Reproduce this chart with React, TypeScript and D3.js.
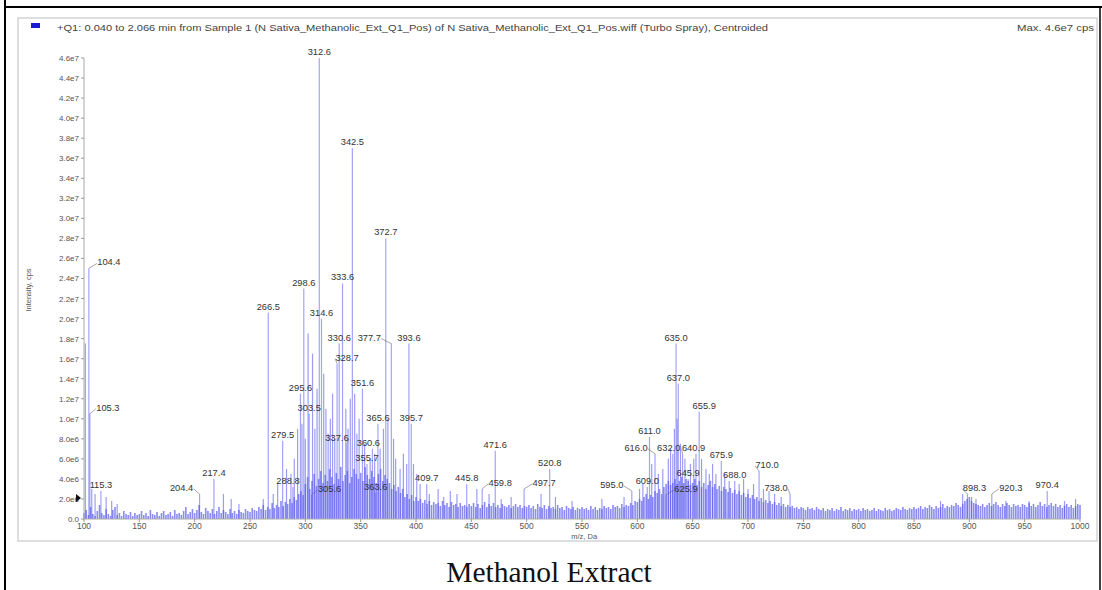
import React from "react";
import * as d3 from "d3";

// labelled peaks: m/z, intensity (cps)
const peakMz = [104.4, 105.3, 115.3, 204.4, 217.4, 266.5, 279.5, 288.8, 295.6, 298.6, 303.5, 312.6, 314.6, 337.6, 305.6, 330.6, 328.7, 333.6, 342.5, 351.6, 355.7, 360.6, 365.6, 363.6, 372.7, 377.7, 393.6, 395.7, 409.7, 445.8, 459.8, 471.6, 497.7, 520.8, 595.0, 609.0, 611.0, 616.0, 625.9, 632.0, 635.0, 637.0, 640.9, 645.9, 655.9, 675.9, 688.0, 710.0, 738.0, 898.3, 920.3, 970.4];
const peakInt = [2.5e7, 1.05e7, 2.8e6, 2.5e6, 4.0e6, 2.06e7, 7.8e6, 3.2e6, 1.25e7, 2.3e7, 1.05e7, 4.6e7, 2.0e7, 7.5e6, 2.4e6, 1.75e7, 1.55e7, 2.35e7, 3.7e7, 1.3e7, 5.5e6, 7.0e6, 9.5e6, 2.6e6, 2.8e7, 1.75e7, 1.75e7, 9.5e6, 3.5e6, 3.5e6, 3.0e6, 6.8e6, 3.0e6, 5.0e6, 2.8e6, 3.2e6, 8.2e6, 6.5e6, 2.4e6, 6.5e6, 1.75e7, 1.35e7, 6.5e6, 4.0e6, 1.07e7, 5.8e6, 3.8e6, 4.8e6, 2.5e6, 2.5e6, 2.5e6, 2.8e6];

// other unlabelled peaks (m/z, intensity in 1e7)
const otherMz = [101.2, 107, 110, 120, 125, 130, 226, 233, 240, 262, 271, 275, 283, 287, 290, 293, 297, 300, 302.5, 306.5, 308.6, 310.6, 316.6, 318.6, 320.6, 322.6, 324.6, 326.6, 336.6, 338.6, 340.6, 344.6, 346.6, 348.6, 353.6, 358.6, 362.6, 367.6, 370.6, 374.6, 379.7, 381.6, 385.6, 388.6, 391.6, 397.7, 400.7, 403.7, 412, 420, 425, 431, 437, 455, 466, 477, 486, 513, 526, 541, 568, 588, 602, 605, 613, 619, 623, 628, 630, 633.5, 636, 639, 643, 648, 651, 653, 658, 662, 665, 668, 671, 679, 683, 692, 696, 700, 705, 714, 719, 724, 730, 874, 894, 902, 906, 933, 954, 986, 996];
const otherInt = [1.75, 0.3, 0.25, 0.22, 0.18, 0.15, 0.25, 0.2, 0.15, 0.2, 0.25, 0.35, 0.5, 0.45, 0.6, 0.9, 0.95, 0.8, 1.85, 1.65, 0.9, 1.3, 1.45, 1.1, 0.85, 1.0, 1.25, 0.8, 1.1, 0.9, 1.2, 1.25, 0.85, 1.0, 0.75, 0.6, 0.65, 0.7, 0.9, 1.0, 0.8, 0.6, 0.5, 0.65, 0.55, 0.55, 0.45, 0.35, 0.25, 0.3, 0.22, 0.28, 0.25, 0.3, 0.25, 0.2, 0.22, 0.25, 0.22, 0.18, 0.2, 0.22, 0.3, 0.35, 0.55, 0.45, 0.5, 0.6, 0.7, 0.9, 1.0, 0.75, 0.6, 0.55, 0.6, 0.65, 0.6, 0.5, 0.45, 0.55, 0.45, 0.45, 0.38, 0.35, 0.4, 0.3, 0.35, 0.3, 0.28, 0.25, 0.22, 0.18, 0.25, 0.22, 0.2, 0.18, 0.18, 0.18, 0.2];

// baseline centroids every 2 Da from m/z 100 to 1000 (intensity in 1e5)
const baseStart = 100;
const baseStep = 2;
const baseInt = [
  6, 9, 4, 12, 5, 3, 8, 14, 6, 4, 10, 5, 3, 9, 12, 4, 6, 3, 8, 5, 4, 7, 3, 6, 4,
  5, 8, 4, 6, 3, 9, 5, 4, 7, 3, 6, 8, 4, 5, 7, 3, 9, 5, 6, 4, 8, 12, 5, 7, 10,
  6, 9, 14, 7, 5, 11, 8, 6, 10, 5, 8, 12, 6, 9, 7, 5, 10, 6, 8, 5, 9, 7, 6, 10, 8,
  7, 11, 9, 8, 12, 10, 14, 9, 12, 10, 16, 11, 14, 12, 18, 13, 17, 15, 20, 16, 22, 19, 25, 28, 24,
  35, 42, 30, 38, 45, 33, 40, 48, 36, 44, 38, 50, 42, 35, 46, 40, 52, 38, 44, 48, 36, 42, 50, 45, 40,
  46, 38, 52, 44, 40, 48, 42, 36, 45, 50, 38, 44, 40, 36, 30, 34, 28, 32, 26, 30, 22, 25, 20, 24, 18,
  22, 18, 20, 16, 19, 15, 18, 14, 17, 15, 16, 13, 18, 14, 16, 12, 17, 14, 15, 12, 16, 13, 14, 12, 15,
  13, 16, 12, 15, 11, 14, 17, 12, 15, 13, 16, 12, 14, 11, 15, 13, 12, 14, 11, 13, 15, 12, 14, 11, 13,
  12, 14, 11, 13, 10, 15, 12, 11, 14, 10, 13, 11, 12, 10, 14, 11, 12, 9, 13, 11, 10, 12, 9, 11, 10,
  12, 10, 11, 9, 13, 10, 12, 9, 11, 10, 13, 11, 12, 10, 14, 12, 13, 11, 15, 12, 14, 13, 16, 14, 18,
  17, 20, 18, 22, 25, 20, 24, 22, 28, 26, 30, 25, 32, 35, 38, 34, 36, 40, 35, 38, 42, 36, 40, 38, 34,
  36, 40, 34, 38, 32, 36, 30, 34, 38, 32, 35, 30, 33, 28, 32, 30, 27, 31, 26, 29, 25, 28, 24, 26, 22,
  25, 21, 24, 20, 22, 18, 21, 17, 19, 16, 18, 15, 17, 14, 16, 13, 15, 12, 14, 12, 13, 11, 12, 10, 12,
  11, 9, 12, 10, 11, 9, 12, 10, 9, 11, 8, 10, 9, 11, 8, 10, 9, 12, 8, 10, 9, 11, 8, 10, 9,
  10, 8, 11, 9, 10, 8, 9, 11, 8, 10, 9, 8, 11, 9, 10, 8, 9, 11, 10, 9, 12, 10, 9, 11, 10,
  12, 10, 11, 13, 10, 12, 11, 14, 12, 10, 13, 11, 12, 15, 11, 13, 12, 14, 13, 16, 14, 12, 15, 18, 20,
  22, 18, 16, 15, 14, 13, 15, 12, 14, 16, 13, 15, 17, 14, 12, 15, 13, 16, 14, 12, 15, 13, 14, 12, 15,
  14, 12, 16, 13, 15, 12, 14, 17, 13, 15, 12, 14, 16, 13, 15, 12, 14, 11, 13, 15, 12, 14, 11, 13, 15,
  14,
];

const xTicks = [100, 150, 200, 250, 300, 350, 400, 450, 500, 550, 600, 650, 700, 750, 800, 850, 900, 950, 1000];
const yTicks = d3.range(0, 4.6e7 + 1, 2e6);

const headerText =
  "+Q1: 0.040 to 2.066 min from Sample 1 (N Sativa_Methanolic_Ext_Q1_Pos) of N Sativa_Methanolic_Ext_Q1_Pos.wiff (Turbo Spray), Centroided";

// label nudges (px) where the instrument software moved a label off its peak
const labelShift: Record<string, number> = {
  "104.4": 20, "105.3": 18, "204.4": -18, "288.8": -5, "305.6": 18, "337.6": -10,
  "328.7": 10, "360.6": -4, "377.7": -22, "459.8": 18, "497.7": 20, "595.0": -20,
  "616.0": -19, "625.9": 20, "632.0": -4, "640.9": 11, "655.9": 5, "710.0": 8, "738.0": -14,
  "898.3": 7, "920.3": 19,
};

const fmtY = (v: number) =>
  v === 0 ? "0.0" : v < 1e7 ? (v / 1e6).toFixed(1) + "e6" : (v / 1e7).toFixed(1) + "e7";

export default function App() {
  const x = d3.scaleLinear().domain([100, 1000]).range([84, 1080]);
  const y = d3.scaleLinear().domain([0, 4.6e7]).range([519, 58]);
  const font = "'Liberation Sans', Arial, sans-serif";
  const barColor = "#5a5af0";

  const base = baseInt.map((v, i) => ({ mz: baseStart + i * baseStep, I: v * 1e5 }));
  const others = otherMz.map((m, i) => ({ mz: m, I: otherInt[i] * 1e7 }));
  const peaks = peakMz.map((m, i) => ({ mz: m, I: peakInt[i], label: m.toFixed(1) }));

  return (
    <div style={{ position: "absolute", left: 0, top: 0 }}>
      <svg width={1102} height={590} style={{ display: "block", background: "#fff" }}>
        {/* outer black border */}
        <line x1={5} y1={0} x2={5} y2={590} stroke="#000" strokeWidth={2} />
        <line x1={5} y1={7} x2={1102} y2={7} stroke="#000" strokeWidth={2} />
        <line x1={1100} y1={7} x2={1100} y2={590} stroke="#000" strokeWidth={1.5} />
        {/* inner frame */}
        <rect x={18} y={18} width={1079} height={523} fill="#fff" stroke="#d4d4d4" strokeWidth={1.5} />

        {/* header */}
        <rect x={31} y={23} width={9} height={5} fill="#1a1ad0" />
        <text x={57} y={31} fontFamily={font} fontSize={9} fill="#444" textLength={711} lengthAdjust="spacingAndGlyphs">
          {headerText}
        </text>
        <text x={1017} y={31} fontFamily={font} fontSize={9} fill="#444" textLength={77} lengthAdjust="spacingAndGlyphs">
          Max. 4.6e7 cps
        </text>

        {/* baseline */}
        <g stroke={barColor} strokeOpacity={0.7} strokeWidth={1.6}>
          {base.map((d, i) => (
            <line key={"b" + i} x1={x(d.mz)} x2={x(d.mz)} y1={y(0)} y2={y(d.I)} />
          ))}
        </g>
        <g stroke={barColor} strokeOpacity={0.6} strokeWidth={1.2}>
          {others.map((d, i) => (
            <line key={"o" + i} x1={x(d.mz)} x2={x(d.mz)} y1={y(0)} y2={y(d.I)} />
          ))}
        </g>
        <g stroke={barColor} strokeOpacity={0.55} strokeWidth={1.2}>
          {peaks.map((d, i) => (
            <line key={"p" + i} x1={x(d.mz)} x2={x(d.mz)} y1={y(0)} y2={y(d.I)} />
          ))}
        </g>

        {/* y axis */}
        <line x1={84} x2={84} y1={y(0)} y2={y(4.6e7)} stroke="#aaa" />
        {yTicks.map((t) => (
          <g key={"yt" + t}>
            <line x1={81} x2={84} y1={y(t)} y2={y(t)} stroke="#999" />
            <text x={79} y={y(t) + 3} fontFamily={font} fontSize={8} fill="#555" textAnchor="end">
              {fmtY(t)}
            </text>
          </g>
        ))}
        <text
          transform={`translate(31, 290) rotate(-90)`}
          fontFamily={font}
          fontSize={7.5}
          fill="#555"
          textAnchor="middle"
        >
          Intensity, cps
        </text>
        <path d="M76,494 L81,498 L76,502 Z" fill="#111" />

        {/* x axis */}
        <line x1={x(100)} x2={x(1000)} y1={y(0)} y2={y(0)} stroke="#aaa" />
        {xTicks.map((t) => (
          <g key={"xt" + t}>
            <line x1={x(t)} x2={x(t)} y1={y(0)} y2={y(0) + 3} stroke="#999" />
            <text x={x(t)} y={529} fontFamily={font} fontSize={8.5} fill="#555" textAnchor="middle">
              {t}
            </text>
          </g>
        ))}
        <text x={x(552)} y={539} fontFamily={font} fontSize={7.5} fill="#555" textAnchor="middle">
          m/z, Da
        </text>

        {/* peak labels */}
        {peaks.map((d, i) => {
          const px = x(d.mz);
          const py = y(d.I);
          const dx = labelShift[d.label] || 0;
          const lx = px + dx;
          const half = 12;
          const edge = dx > 0 ? lx - half : lx + half;
          return (
            <g key={"l" + i}>
              {Math.abs(dx) > 6 && (
                <line x1={px} y1={py} x2={edge} y2={py - 5} stroke="#666" strokeWidth={0.6} />
              )}
              <text
                x={lx}
                y={py - 3}
                fontFamily={font}
                fontSize={9.3}
                fill="#333"
                textAnchor="middle"
              >
                {d.label}
              </text>
            </g>
          );
        })}

        {/* caption */}
        <text
          x={549}
          y={582}
          fontFamily="'Liberation Serif', 'Times New Roman', serif"
          fontSize={29.5}
          fill="#111"
          textAnchor="middle"
        >
          Methanol Extract
        </text>
      </svg>
    </div>
  );
}
